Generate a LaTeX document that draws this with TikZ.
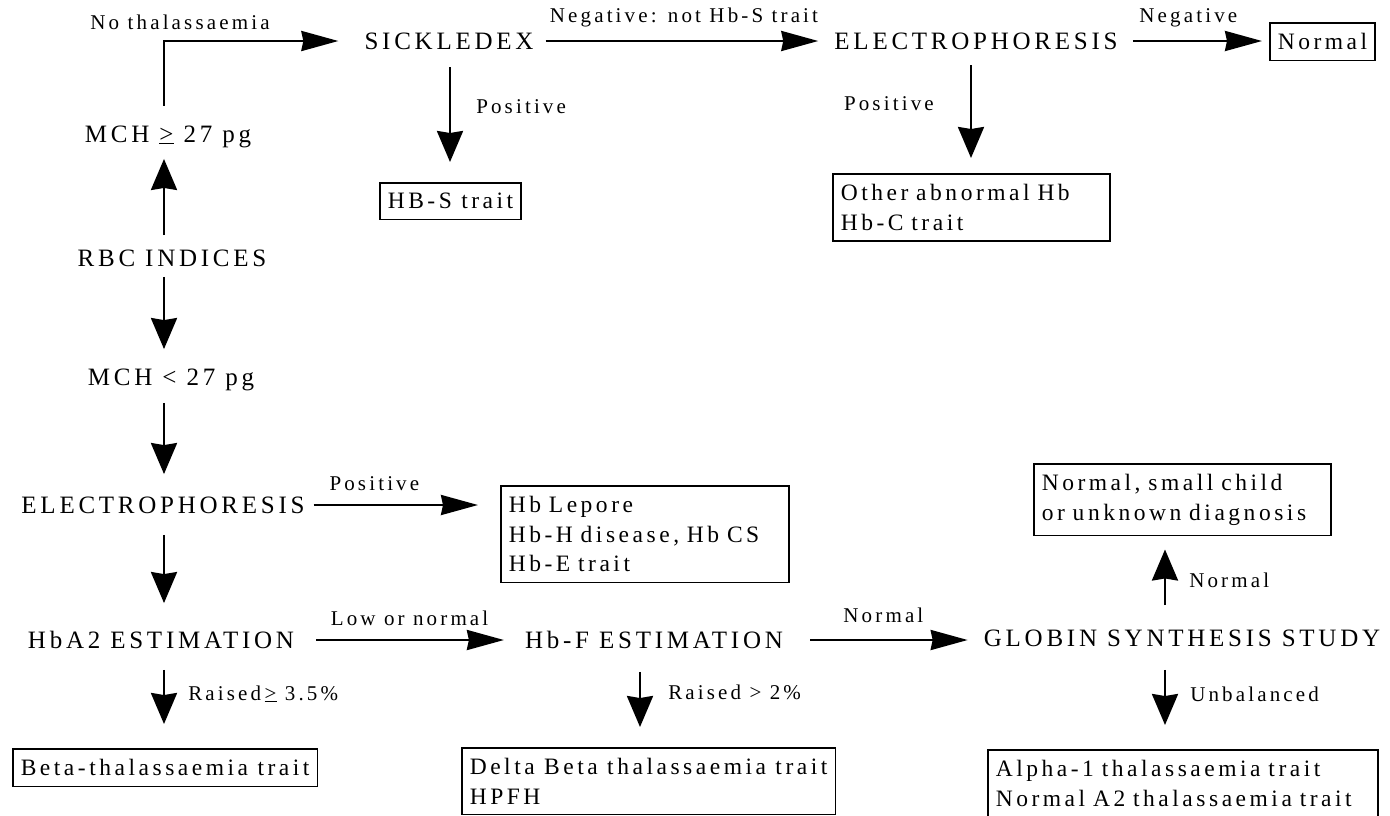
\documentclass[tikz,border=0pt]{standalone}
\usepackage{fontspec}
\setmainfont{Liberation Serif}[LetterSpace=15]
\usetikzlibrary{arrows.meta}

\begin{document}
\begin{tikzpicture}[x=1pt,y=-1pt,
  stage/.style={inner sep=0pt,text height=16.5pt,text depth=0pt,font=\fontsize{25}{30}\selectfont},
  cond/.style={inner sep=0pt,text height=14pt,text depth=0pt,font=\fontsize{21}{26}\selectfont},
  result/.style={draw,line width=1.6pt,anchor=north west,align=left,inner xsep=8pt,inner ysep=10.5pt,font=\fontsize{23.5}{29.5}\selectfont},
  varrow/.style={line width=2.5pt,-{Stealth[length=31pt,width=26pt,inset=2pt]}},
  harrow/.style={line width=2.5pt,-{Stealth[length=37pt,width=20pt,inset=2pt]}}]

\useasboundingbox (0,0) rectangle (1390,815);

% columns of the vertical arrows
\coordinate (colL) at (164,0);
\coordinate (colS) at (450,0);
\coordinate (colE) at (971,0);
\coordinate (colF) at (640,0);
\coordinate (colG) at (1165,0);

% tests
\node[stage] (mchHi) at (168,134) {MCH \underline{>} 27 pg};
\node[stage] (sickle) at (449,41) {SICKLEDEX};
\node[stage] (elecA) at (976,41) {ELECTROPHORESIS};
\node[stage] (rbc) at (172,258) {RBC INDICES};
\node[stage] (mchLo) at (171,377) {MCH < 27 pg};
\node[stage] (elecB) at (163,505) {ELECTROPHORESIS};
\node[stage] (hba2) at (161,640) {HbA2 ESTIMATION};
\node[stage] (hbf) at (654,640) {Hb-F ESTIMATION};
\node[stage] (globin) at (1182,638) {GLOBIN SYNTHESIS STUDY};

% outcomes
\node[result] (normA) at (1269,22) {Normal};
\node[result] (hbs) at (379,182) {HB-S trait};
\node[result,text width=261pt] (otherHb) at (832,173) {Other abnormal Hb\\Hb-C trait};
\node[result,text width=272pt] (lepore) at (500,485) {Hb Lepore\\Hb-H disease, Hb CS\\Hb-E trait};
\node[result,text width=281pt] (unknown) at (1033,463) {Normal, small child\\or unknown diagnosis};
\node[result] (beta) at (12,748) {Beta-thalassaemia trait};
\node[result] (delta) at (461,747) {Delta Beta thalassaemia trait\\HPFH};
\node[result,text width=374pt] (alpha) at (987,749) {Alpha-1 thalassaemia trait\\Normal A2 thalassaemia trait};

% arrows
\draw[harrow,shorten <=20pt,shorten >=26pt] (mchHi.north -| colL) |- (sickle.west) node[cond,pos=0.54,yshift=19pt] {No thalassaemia};
\draw[harrow,shorten <=12pt,shorten >=16pt] (sickle.east) -- (elecA.west) node[cond,midway,yshift=26pt] {Negative: not Hb-S trait};
\draw[harrow,shorten <=15pt,shorten >=7pt] (elecA.east) -- (normA.west |- elecA.east) node[cond,midway,xshift=-5pt,yshift=26pt] {Negative};
\draw[varrow,shorten <=18pt,shorten >=20pt] (sickle.south -| colS) -- (hbs.north -| colS) node[cond,midway,anchor=west,xshift=25pt,yshift=9pt] {Positive};
\draw[varrow,shorten <=16pt,shorten >=15pt] (elecA.south -| colE) -- (otherHb.north -| colE) node[cond,midway,anchor=east,xshift=-36pt,yshift=8pt] {Positive};
\draw[varrow,shorten <=14.5pt,shorten >=16.5pt] (rbc.north -| colL) -- (mchHi.south -| colL);
\draw[varrow,shorten <=10.5pt,shorten >=19.5pt] (rbc.south -| colL) -- (mchLo.north -| colL);
\draw[varrow,shorten <=17.5pt,shorten >=22.5pt] (mchLo.south -| colL) -- (elecB.north -| colL);
\draw[harrow,shorten <=9pt,shorten >=22pt] (elecB.east) -- (elecB.east -| lepore.west) node[cond,midway,xshift=-28pt,yshift=22pt] {Positive};
\draw[varrow,shorten <=21.5pt,shorten >=28.5pt] (elecB.south -| colL) -- (hba2.north -| colL);
\draw[harrow,shorten <=22pt,shorten >=21pt] (hba2.east) -- (hbf.west) node[cond,midway,yshift=22pt] {Low or normal};
\draw[harrow,shorten <=27pt,shorten >=16pt] (hbf.east) -- (globin.west |- hbf.east) node[cond,midway,yshift=25pt] {Normal};
\draw[varrow,shorten <=24.5pt,shorten >=13pt] (globin.north -| colG) -- (unknown.south -| colG) node[cond,midway,anchor=west,xshift=23pt,yshift=3pt] {Normal};
\draw[varrow,shorten <=23.5pt,shorten >=24pt] (globin.south -| colG) -- (alpha.north -| colG) node[cond,midway,anchor=west,xshift=24pt,yshift=3pt] {Unbalanced};
\draw[varrow,shorten <=21.5pt,shorten >=24pt] (hba2.south -| colL) -- (beta.north -| colL) node[cond,midway,anchor=west,xshift=23pt,yshift=5pt] {Raised\,\underline{>} 3.5\%};
\draw[varrow,shorten <=23.5pt,shorten >=20pt] (hbf.south -| colF) -- (delta.north -| colF) node[cond,midway,anchor=west,xshift=27pt,yshift=5pt] {Raised > 2\%};

\end{tikzpicture}
\end{document}
